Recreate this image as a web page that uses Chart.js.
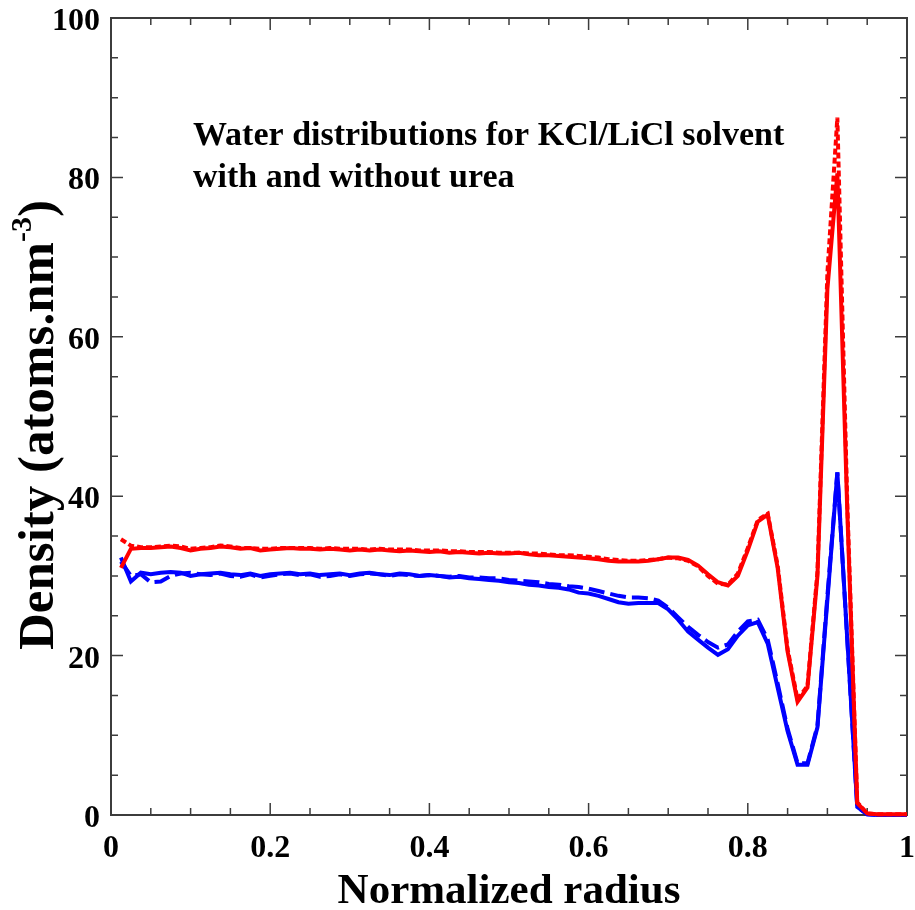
<!DOCTYPE html>
<html>
<head>
<meta charset="utf-8">
<script src="https://cdn.jsdelivr.net/npm/chart.js@4/dist/chart.umd.min.js"></script>
<style>
  html, body { margin: 0; padding: 0; background: #ffffff; }
  #wrap { width: 915px; height: 910px; }
</style>
</head>
<body>
<div id="wrap"><canvas id="c" width="915" height="910"></canvas></div>
<script>
// ---- Data ----
const radius = [
  0.0125,0.025,0.0375,0.05,0.0625,0.075,0.0875,0.1,0.1125,0.125,
  0.1375,0.15,0.1625,0.175,0.1875,0.2,0.2125,0.225,0.2375,0.25,
  0.2625,0.275,0.2875,0.3,0.3125,0.325,0.3375,0.35,0.3625,0.375,
  0.3875,0.4,0.4125,0.425,0.4375,0.45,0.4625,0.475,0.4875,0.5,
  0.5125,0.525,0.5375,0.55,0.5625,0.575,0.5875,0.6,0.6125,0.625,
  0.6375,0.65,0.6625,0.675,0.6875,0.7,0.7125,0.725,0.7375,0.75,
  0.7625,0.775,0.7875,0.8,0.8125,0.825,0.8375,0.85,0.8625,0.875,
  0.8875,0.9,0.9125,0.925,0.9375,0.95,0.9625,0.975,0.9875,1.0
];
// red solid
const redSolid = [
  31.0,33.4,33.5,33.5,33.6,33.7,33.5,33.2,33.4,33.5,
  33.7,33.6,33.4,33.5,33.2,33.3,33.4,33.5,33.4,33.4,
  33.3,33.4,33.3,33.2,33.3,33.2,33.3,33.2,33.1,33.2,
  33.1,33.0,33.1,32.9,33.0,32.9,32.8,32.9,32.8,32.8,
  32.9,32.7,32.6,32.6,32.5,32.4,32.3,32.2,32.1,31.9,
  31.8,31.8,31.8,31.9,32.1,32.3,32.3,32.0,31.3,30.2,
  29.2,28.8,30.0,33.2,36.8,37.7,31.0,20.5,14.2,16.0,
  30.0,66.0,80.5,38.0,1.5,0.2,0.1,0.1,0.1,0.1
];
// red dotted
const redDotted = [
  34.6,33.8,33.6,33.6,33.7,33.8,33.7,33.4,33.5,33.6,
  33.8,33.7,33.5,33.5,33.4,33.4,33.5,33.5,33.5,33.5,
  33.4,33.5,33.4,33.4,33.4,33.3,33.4,33.3,33.3,33.3,
  33.2,33.2,33.2,33.1,33.1,33.0,33.0,33.0,32.9,32.9,
  32.9,32.8,32.8,32.7,32.6,32.6,32.5,32.4,32.3,32.1,
  32.0,31.9,31.9,32.0,32.1,32.3,32.2,31.9,31.2,30.0,
  29.0,28.9,30.3,33.5,37.0,37.8,31.3,20.8,14.5,16.2,
  30.5,68.0,87.5,39.0,1.6,0.2,0.1,0.1,0.1,0.1
];
// blue solid
const blueSolid = [
  32.3,29.3,30.4,30.2,30.4,30.5,30.4,30.0,30.2,30.3,
  30.4,30.2,30.1,30.3,30.0,30.2,30.3,30.4,30.2,30.3,
  30.1,30.2,30.3,30.1,30.3,30.4,30.2,30.1,30.3,30.2,
  30.0,30.1,30.0,29.8,29.9,29.7,29.6,29.5,29.4,29.2,
  29.1,28.9,28.8,28.6,28.5,28.3,27.9,27.8,27.5,27.1,
  26.7,26.5,26.6,26.6,26.6,25.8,24.5,23.0,22.0,21.0,
  20.1,20.8,22.5,23.8,24.2,21.5,16.0,10.5,6.3,6.3,
  11.0,27.0,43.0,22.0,1.0,0.1,0.0,0.0,0.0,0.0
];
// blue dashed
const blueDashed = [
  31.8,30.0,30.2,29.2,29.3,30.0,30.3,30.4,30.2,30.1,
  30.3,30.0,29.9,30.2,29.8,30.0,30.2,30.3,30.1,30.2,
  29.9,30.0,30.2,30.0,30.2,30.3,30.2,30.0,30.2,30.1,
  30.0,30.1,30.0,29.9,30.0,29.8,29.8,29.7,29.7,29.5,
  29.4,29.3,29.2,29.0,28.9,28.7,28.6,28.4,28.1,27.8,
  27.5,27.3,27.3,27.2,26.9,26.0,24.8,23.6,22.6,21.7,
  21.0,21.4,23.0,24.3,24.5,22.0,16.5,10.8,6.5,6.5,
  11.2,27.5,43.0,22.0,1.0,0.1,0.0,0.0,0.0,0.0
];
const xTickValues = [0, 0.2, 0.4, 0.6, 0.8, 1];
const xTickLabels = ["0", "0.2", "0.4", "0.6", "0.8", "1"];
const yTickValues = [0, 20, 40, 60, 80, 100];
const yTickLabels = ["0", "20", "40", "60", "80", "100"];
const annotationLines = ["Water distributions for KCl/LiCl solvent", "with and without urea"];
const xTitle = "Normalized radius";
const yTitleMain = "Density (atoms.nm";
const yTitleSup = "-3";
const yTitleEnd = ")";

const FONT = '"Liberation Serif", "Times New Roman", serif';

function pts(ys) { return radius.map((x, i) => ({ x: x, y: ys[i] })); }

const framePlugin = {
  id: 'frame',
  beforeDraw(chart) {
    const ctx = chart.ctx;
    ctx.save();
    ctx.fillStyle = '#ffffff';
    ctx.fillRect(0, 0, chart.width, chart.height);
    ctx.restore();
  },
  beforeDatasetsDraw(chart) {
    const ctx = chart.ctx;
    const { left, right, top, bottom } = chart.chartArea;
    const xs = chart.scales.x, ys = chart.scales.y;
    ctx.save();
    ctx.strokeStyle = '#3c3c3c';
    ctx.lineWidth = 2;
    ctx.strokeRect(left, top, right - left, bottom - top);
    ctx.lineWidth = 1.5;
    ctx.beginPath();
    for (let k = 0; k <= 20; k++) {
      const px = xs.getPixelForValue(k * 0.05);
      const len = (k % 4 === 0) ? 12 : 7;
      ctx.moveTo(px, bottom); ctx.lineTo(px, bottom - len);
      ctx.moveTo(px, top); ctx.lineTo(px, top + len);
    }
    for (let k = 0; k <= 20; k++) {
      const py = ys.getPixelForValue(k * 5);
      const len = (k % 4 === 0) ? 12 : 7;
      ctx.moveTo(left, py); ctx.lineTo(left + len, py);
      ctx.moveTo(right, py); ctx.lineTo(right - len, py);
    }
    ctx.stroke();
    // tick labels
    ctx.fillStyle = '#000000';
    ctx.font = 'bold 32px ' + FONT;
    ctx.textBaseline = 'alphabetic';
    ctx.textAlign = 'center';
    xTickValues.forEach((v, i) => {
      ctx.fillText(xTickLabels[i], xs.getPixelForValue(v), bottom + 42);
    });
    ctx.textAlign = 'right';
    yTickValues.forEach((v, i) => {
      ctx.fillText(yTickLabels[i], left - 11, ys.getPixelForValue(v) + 12);
    });
    ctx.restore();
  },
  afterDraw(chart) {
    const ctx = chart.ctx;
    const { left, right } = chart.chartArea;
    ctx.save();
    ctx.fillStyle = '#000000';
    ctx.font = 'bold 34px ' + FONT;
    ctx.textAlign = 'left';
    ctx.textBaseline = 'alphabetic';
    ctx.fillText(annotationLines[0], 193, 145);
    ctx.fillText(annotationLines[1], 193, 187);
    ctx.font = 'bold 43px ' + FONT;
    ctx.textAlign = 'center';
    ctx.fillText(xTitle, (left + right) / 2, 903);
    const mainFont = 'bold 51px ' + FONT;
    const supFont = 'bold 30px ' + FONT;
    ctx.font = mainFont;
    const w1 = ctx.measureText(yTitleMain).width;
    const w3 = ctx.measureText(yTitleEnd).width;
    ctx.font = supFont;
    const w2 = ctx.measureText(yTitleSup).width;
    const total = w1 + w2 + w3;
    ctx.translate(53, 425);
    ctx.rotate(-Math.PI / 2);
    ctx.textAlign = 'left';
    const x0 = -total / 2;
    ctx.font = mainFont;
    ctx.fillText(yTitleMain, x0, 0);
    ctx.font = supFont;
    ctx.fillText(yTitleSup, x0 + w1, -22);
    ctx.font = mainFont;
    ctx.fillText(yTitleEnd, x0 + w1 + w2, 0);
    ctx.restore();
  }
};

const common = { pointRadius: 0, pointHoverRadius: 0, borderWidth: 4, tension: 0, fill: false, clip: false };

new Chart(document.getElementById('c'), {
  type: 'line',
  data: {
    datasets: [
      Object.assign({ label: 'red solid', data: pts(redSolid), borderColor: '#ff0000' }, common),
      Object.assign({ label: 'red dotted', data: pts(redDotted), borderColor: '#ff0000', borderDash: [6, 3] }, common),
      Object.assign({ label: 'blue solid', data: pts(blueSolid), borderColor: '#0000ff' }, common),
      Object.assign({ label: 'blue dashed', data: pts(blueDashed), borderColor: '#0000ff', borderDash: [16, 6] }, common)
    ]
  },
  options: {
    responsive: false,
    animation: false,
    devicePixelRatio: 1,
    layout: { padding: { top: 18, right: 8, left: 0, bottom: 0 } },
    plugins: { legend: { display: false }, tooltip: { enabled: false } },
    scales: {
      x: {
        type: 'linear', min: 0, max: 1,
        afterFit(scale) { scale.height = 95; },
        ticks: { display: false },
        grid: { display: false, drawTicks: false },
        border: { display: false }
      },
      y: {
        type: 'linear', min: 0, max: 100,
        afterFit(scale) { scale.width = 111; },
        ticks: { display: false },
        grid: { display: false, drawTicks: false },
        border: { display: false }
      }
    }
  },
  plugins: [framePlugin]
});
</script>
</body>
</html>
